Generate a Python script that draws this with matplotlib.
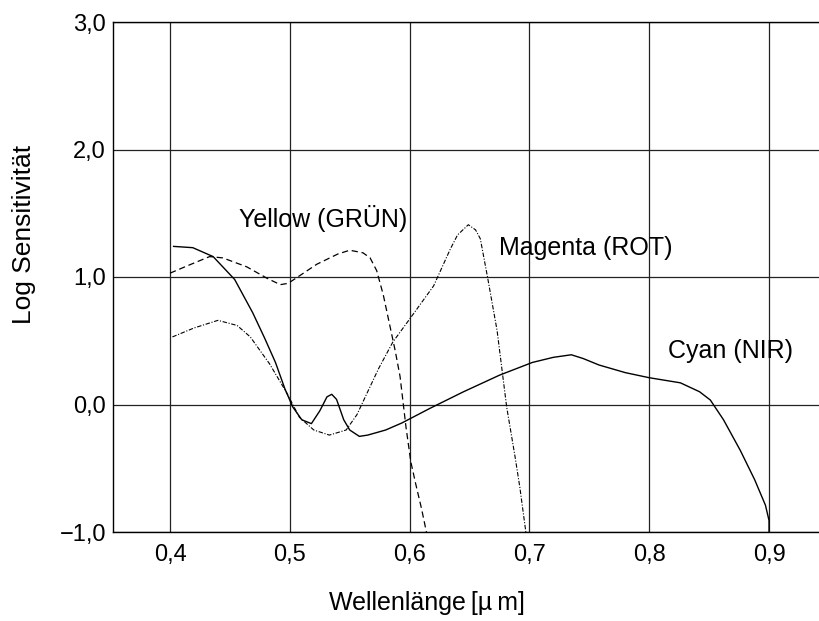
import matplotlib
matplotlib.use("Agg")
import matplotlib.pyplot as plt

plt.rcParams['font.family'] = ['Liberation Sans', 'DejaVu Sans']

# Cyan (NIR) - solid
cyan_x = [0.403, 0.419, 0.436, 0.454, 0.469, 0.479, 0.488, 0.496, 0.5025, 0.51, 0.518, 0.525, 0.531,
          0.535, 0.539, 0.545, 0.55, 0.558, 0.565, 0.58, 0.5935, 0.617, 0.645, 0.675, 0.7025,
          0.72, 0.735, 0.745, 0.758, 0.78, 0.8, 0.826, 0.842, 0.851, 0.862, 0.876, 0.888, 0.897,
          0.9, 0.9]
cyan_y = [1.24, 1.23, 1.16, 0.98, 0.72, 0.52, 0.33, 0.12, -0.02, -0.12, -0.15, -0.05, 0.06,
          0.08, 0.04, -0.12, -0.2, -0.25, -0.24, -0.2, -0.145, -0.03, 0.1, 0.23, 0.33,
          0.37, 0.39, 0.36, 0.31, 0.25, 0.21, 0.17, 0.10, 0.035, -0.12, -0.36, -0.59, -0.79,
          -0.91, -1.0]

# Yellow (GRÜN) - dashed
yellow_x = [0.4, 0.415, 0.433, 0.444, 0.464, 0.481, 0.492, 0.4985, 0.505, 0.5225, 0.54, 0.55, 0.561,
            0.567, 0.5725, 0.578, 0.583, 0.588, 0.592, 0.597, 0.601, 0.605, 0.61, 0.614]
yellow_y = [1.03, 1.09, 1.16, 1.15, 1.08, 0.99, 0.94, 0.95, 0.99, 1.1, 1.18, 1.21, 1.19,
            1.15, 1.05, 0.86, 0.64, 0.42, 0.22, -0.18, -0.45, -0.62, -0.82, -1.0]

# Magenta (ROT) - dash-dot
magenta_x = [0.402, 0.42, 0.44, 0.456, 0.467, 0.483, 0.4975, 0.508, 0.52, 0.533, 0.547, 0.556,
             0.561, 0.574, 0.586, 0.6, 0.62, 0.634, 0.64, 0.649, 0.655, 0.659, 0.665, 0.673,
             0.681, 0.688, 0.692, 0.697]
magenta_y = [0.53, 0.6, 0.66, 0.62, 0.53, 0.32, 0.09, -0.1, -0.2, -0.24, -0.2, -0.08,
             0.02, 0.28, 0.49, 0.67, 0.93, 1.22, 1.33, 1.41, 1.37, 1.3, 1.0, 0.58,
             -0.02, -0.41, -0.65, -1.0]

x_ticks = [0.4, 0.5, 0.6, 0.7, 0.8, 0.9]
x_labels = ["0,4", "0,5", "0,6", "0,7", "0,8", "0,9"]
y_ticks = [-1, 0, 1, 2, 3]
y_labels = ["\u22121,0", "0,0", "1,0", "2,0", "3,0"]

W, H = 819, 621
fig = plt.figure(figsize=(W / 100, H / 100), dpi=100)
ax = fig.add_axes([113 / W, 1 - 532 / H, 706 / W, 510 / H])
ax.set_xlim(0.3524, 0.9417)
ax.set_ylim(-1, 3)

for xv in x_ticks:
    ax.axvline(xv, color='#222222', lw=0.9, zorder=1)
for yv in y_ticks:
    ax.axhline(yv, color='#222222', lw=0.9, zorder=1)

ax.plot(cyan_x, cyan_y, color='black', lw=1.0, zorder=3)
ax.plot(yellow_x, yellow_y, color='black', lw=0.9, dashes=(5, 3), zorder=3)
ax.plot(magenta_x, magenta_y, color='black', lw=0.8, dashes=(4, 1.5, 1, 1.5), zorder=3)

ax.text(0.4575, 1.46, "Yellow (GRÜN)", fontsize=18, va='center', ha='left')
ax.text(0.675, 1.23, "Magenta (ROT)", fontsize=18, va='center', ha='left')
ax.text(0.816, 0.42, "Cyan (NIR)", fontsize=18, va='center', ha='left')

ax.set_xticks(x_ticks)
ax.set_xticklabels(x_labels)
ax.set_yticks(y_ticks)
ax.set_yticklabels(y_labels)
ax.tick_params(length=0, labelsize=17)
ax.tick_params(axis='x', pad=9)
ax.tick_params(axis='y', pad=5)

for s in ['left', 'top', 'bottom']:
    ax.spines[s].set_linewidth(1.0)
ax.spines['right'].set_visible(False)

fig.text(427 / W, 1 - 603 / H, "Wellenlänge\u2009[µ\u2009m]", fontsize=18,
         ha='center', va='center')
fig.text(24 / W, 1 - 234 / H, "Log Sensitivität", fontsize=19, rotation=90,
         ha='center', va='center')

fig.savefig("out.png", dpi=100)
